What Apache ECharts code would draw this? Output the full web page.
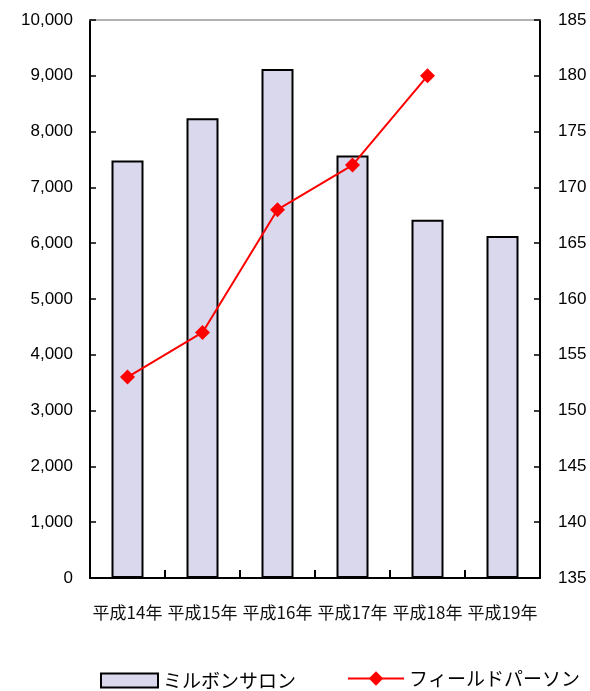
<!DOCTYPE html>
<html><head><meta charset="utf-8">
<script src="https://cdn.jsdelivr.net/npm/echarts@6/dist/echarts.min.js"></script>
<style>html,body{margin:0;padding:0;background:#fff}#c{width:590px;height:691px}</style>
</head><body><div id="c"></div>
<script>
var categories = ['平成14年','平成15年','平成16年','平成17年','平成18年','平成19年'];
var salonValues = [7480, 8240, 9120, 7570, 6420, 6130];
var personValues = [153, 157, 168, 172, 180, null];
var salonName = 'ミルボンサロン';
var personName = 'フィールドパーソン';

var font = '"Noto Sans CJK JP", "Liberation Sans", sans-serif';
var chart = echarts.init(document.getElementById('c'));
chart.setOption({
  backgroundColor: '#fff',
  animation: false,
  textStyle: { fontFamily: font },
  grid: { left: 90, right: 50, top: 20, bottom: 113 },
  legend: [
    { data: [{ name: salonName, icon: 'rect' }], left: 100, top: 671, padding: 0, itemWidth: 57, itemHeight: 14, itemGap: 0, itemTextGap: 4,
      textStyle: { fontSize: 19, color: '#000', fontFamily: font } },
    { data: [personName], left: 347, top: 669, padding: 0, itemWidth: 56, itemHeight: 18, itemGap: 0, itemTextGap: 4,
      textStyle: { fontSize: 19, color: '#000', fontFamily: font } }
  ],
  xAxis: [
    { type: 'category', data: categories, position: 'bottom', z: 10,
      axisLine: { show: true, lineStyle: { color: '#000', width: 2 } },
      axisTick: { show: true, inside: true, length: 8, interval: 0, lineStyle: { color: '#000', width: 2 } },
      axisLabel: { fontSize: 17, color: '#111', margin: 26, interval: 0, fontFamily: font },
      splitLine: { show: false } },
    { type: 'category', data: categories, position: 'top',
      axisLine: { lineStyle: { color: '#999', width: 1.5 } },
      axisTick: { show: false }, axisLabel: { show: false }, splitLine: { show: false } }
  ],
  yAxis: [
    { type: 'value', min: 0, max: 10000, interval: 1000, position: 'left',
      axisLine: { show: true, lineStyle: { color: '#000', width: 2 } },
      axisTick: { show: true, inside: true, length: 6, lineStyle: { color: '#000', width: 1.5 } },
      axisLabel: { fontSize: 17, color: '#000', margin: 17, fontFamily: '"Liberation Sans", sans-serif',
        formatter: function (v) { return v.toLocaleString('en-US'); } },
      splitLine: { show: false } },
    { type: 'value', min: 135, max: 185, interval: 5, position: 'right',
      axisLine: { show: true, lineStyle: { color: '#000', width: 2 } },
      axisTick: { show: true, inside: true, length: 6, lineStyle: { color: '#000', width: 1.5 } },
      axisLabel: { fontSize: 17, color: '#000', margin: 18, fontFamily: '"Liberation Sans", sans-serif' },
      splitLine: { show: false } }
  ],
  series: [
    { name: salonName, type: 'bar', data: salonValues, xAxisIndex: 0, yAxisIndex: 0, barWidth: 32,
      itemStyle: { color: '#d9d8ec', borderColor: '#000', borderWidth: 2 } },
    { name: personName, type: 'line', data: personValues, xAxisIndex: 0, yAxisIndex: 1,
      symbol: 'diamond', symbolSize: 15, connectNulls: false,
      lineStyle: { color: '#ff0000', width: 2 }, itemStyle: { color: '#ff0000' } }
  ]
});
</script></body></html>
